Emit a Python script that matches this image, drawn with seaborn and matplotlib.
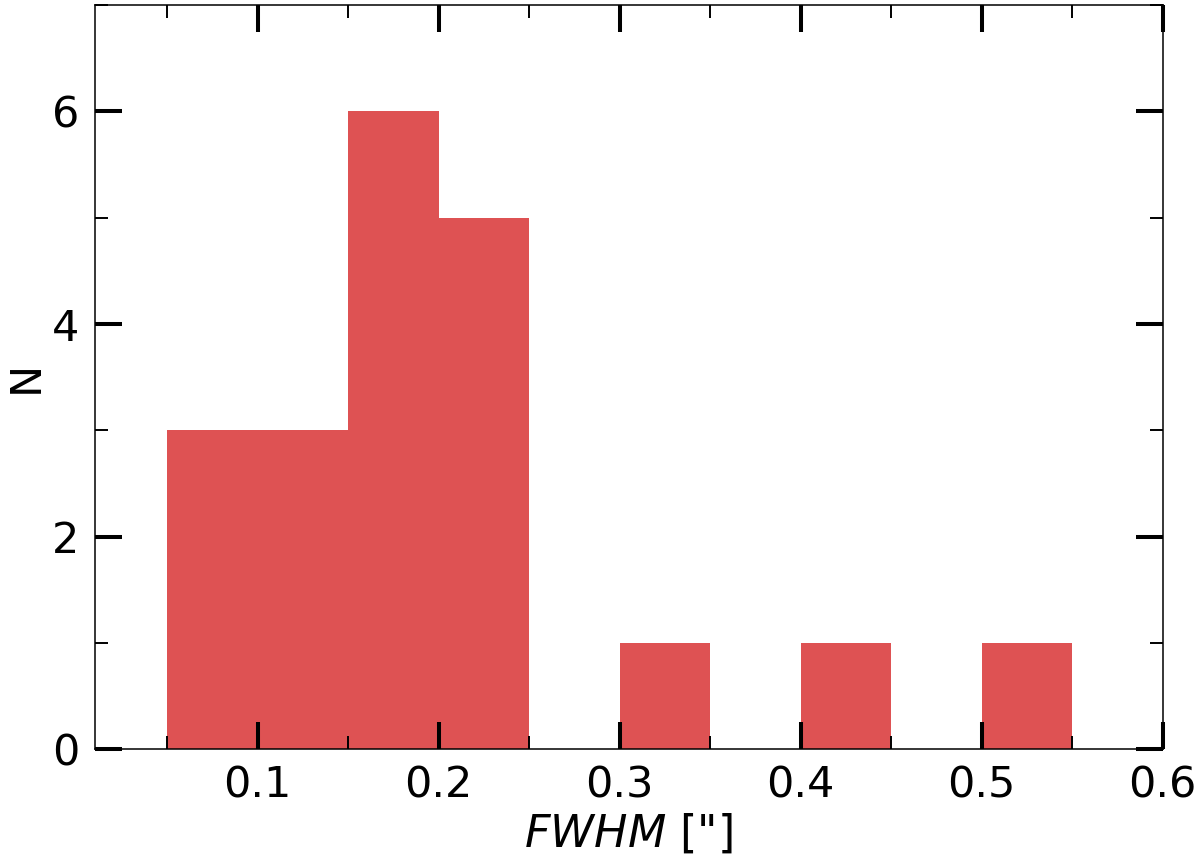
import numpy as np
import pandas as pd
import matplotlib
matplotlib.use("Agg")
import matplotlib.pyplot as plt
from matplotlib.ticker import MultipleLocator
import seaborn as sns

# histogram: bin centres and counts
bin_centers = [0.075, 0.125, 0.175, 0.225, 0.275, 0.325, 0.375, 0.425, 0.475, 0.525]
counts = [3, 3, 6, 5, 0, 1, 0, 1, 0, 1]

df = pd.DataFrame({"fwhm": bin_centers, "n": counts})

sns.set_style("ticks", rc={"axes.edgecolor": "black", "text.color": "black",
                           "axes.labelcolor": "black", "xtick.color": "black",
                           "ytick.color": "black", "axes.axisbelow": False})
plt.rcParams["font.family"] = ["DejaVu Sans"]
plt.rcParams["mathtext.fontset"] = "dejavusans"

fig = plt.figure(figsize=(12, 8.65), dpi=100)
ax = fig.add_axes([0.079, 0.134, 0.890, 0.860])

sns.histplot(data=df, x="fwhm", weights="n", binwidth=0.05, binrange=(0.05, 0.55),
             color="#d62728", alpha=0.8, edgecolor="none", linewidth=0, ax=ax)

ax.set_xlim(0.01, 0.6)
ax.set_ylim(0, 7)
ax.xaxis.set_major_locator(MultipleLocator(0.1))
ax.xaxis.set_minor_locator(MultipleLocator(0.05))
ax.yaxis.set_major_locator(MultipleLocator(2))
ax.yaxis.set_minor_locator(MultipleLocator(1))
ax.set_axisbelow(False)

ax.tick_params(which="major", direction="in", length=19.5, width=2.9,
               top=True, right=True, labelsize=31, pad=11)
ax.tick_params(which="minor", direction="in", length=9.5, width=1.4,
               top=True, right=True)
for s in ax.spines.values():
    s.set_linewidth(1.1)
    s.set_visible(True)
    s.set_zorder(5)

ax.set_xlabel(r'$FWHM$ ["]', fontsize=32)
ax.set_ylabel("N", fontsize=31)

fig.savefig("out.png", dpi=100)
